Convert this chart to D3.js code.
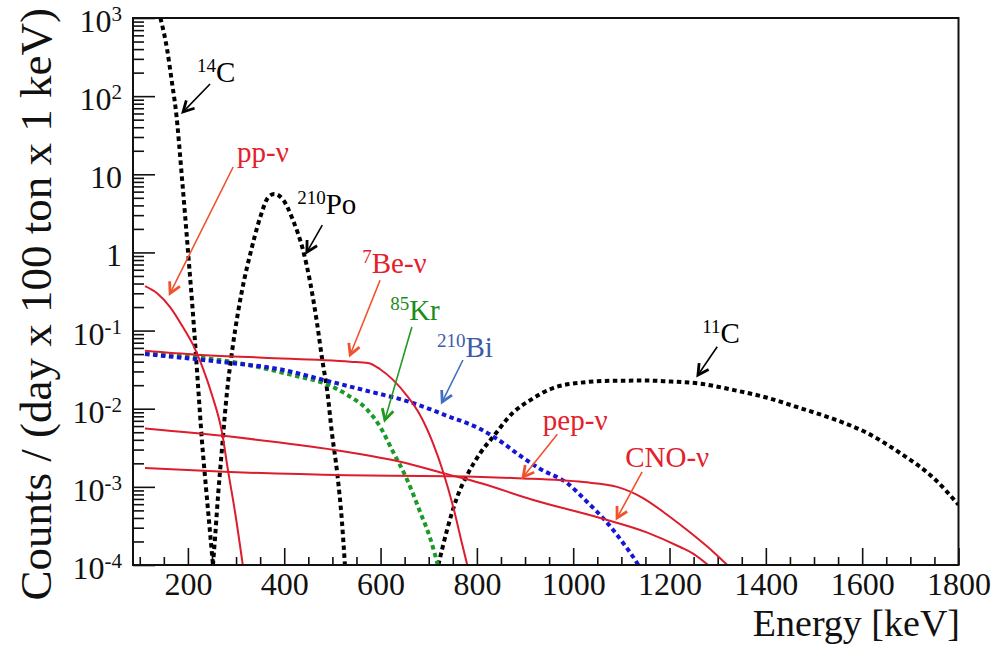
<!DOCTYPE html>
<html>
<head>
<meta charset="utf-8">
<script src="https://cdn.jsdelivr.net/npm/d3@7"></script>
<style>
  body { margin: 0; background: #fff; }
  text { font-family: "Liberation Serif", "Times New Roman", serif; }
</style>
</head>
<body>
<div id="chart"></div>
<script>
// spectra: [energy keV, counts / (day x 100 ton x 1 keV)]
const c14 = [[143, 1000], [157, 390], [167, 148], [175, 66], [188, 8.5], [200, 1.07], [213, 0.102],
  [221, 0.020], [229, 0.004], [238, 9.1e-4], [246, 2.6e-4], [252, 1e-4]];
const po210 = [[252, 1e-4], [256, 2.1e-4], [263, 8.3e-4], [271, 3.2e-3], [281, 0.016], [292, 0.056],
  [304, 0.17], [317, 0.45], [329, 0.93], [350, 2.8], [366, 5.0], [379, 5.6], [398, 4.7], [418, 2.6],
  [439, 1.07], [454, 0.41], [468, 0.126], [479, 0.042], [489, 0.0174], [499, 0.0049], [510, 0.0015],
  [520, 3.5e-4], [526, 1e-4]];
const ppNu = [[111, 0.37], [136, 0.30], [163, 0.20], [190, 0.11], [211, 0.065], [231, 0.033],
  [250, 0.015], [271, 0.0049], [283, 0.00166], [298, 4.7e-4], [314, 1e-4]];
const be7Nu = [[111, 0.055], [219, 0.049], [356, 0.045], [537, 0.040], [574, 0.0385], [599, 0.032],
  [626, 0.0234], [655, 0.0146], [682, 0.0083], [709, 0.0036], [730, 0.00155], [751, 5.5e-4],
  [769, 1.9e-4], [780, 1e-4]];
const kr85 = [[111, 0.051], [288, 0.040], [427, 0.026], [481, 0.0214], [531, 0.015], [573, 0.0096],
  [599, 0.0059], [626, 0.0028], [655, 0.00124], [682, 4.8e-4], [703, 2.2e-4], [719, 1e-4]];
const bi210 = [[111, 0.050], [288, 0.0385], [391, 0.032], [481, 0.0234], [564, 0.0174], [668, 0.0118],
  [738, 0.0081], [807, 0.0055], [842, 0.0041], [890, 0.0025], [931, 0.0017], [987, 0.00112],
  [1029, 6.4e-4], [1070, 3.5e-4], [1104, 1.9e-4], [1129, 1.15e-4], [1135, 1e-4]];
const c11 = [[720, 1e-4], [738, 2.8e-4], [759, 7.4e-4], [782, 0.0015], [807, 0.0027], [834, 0.0044],
  [875, 0.0089], [911, 0.0129], [958, 0.0184], [1014, 0.0215], [1083, 0.0228], [1154, 0.0229],
  [1195, 0.0224], [1264, 0.0209], [1332, 0.0174], [1403, 0.0138], [1471, 0.0102], [1540, 0.0074],
  [1610, 0.0049], [1679, 0.0027], [1748, 0.0013], [1800, 5.9e-4]];
const pepNu = [[111, 0.00174], [288, 0.00155], [531, 0.00141], [745, 0.00137], [884, 0.00129],
  [1021, 0.00115], [1091, 0.001], [1145, 7.2e-4], [1195, 4.4e-4], [1243, 2.6e-4], [1291, 1.47e-4],
  [1320, 1e-4]];
const cnoNu = [[111, 0.0056], [288, 0.0044], [391, 0.0037], [531, 0.0028], [641, 0.0021], [730, 0.0015],
  [807, 0.00112], [917, 6.8e-4], [1056, 4.0e-4], [1154, 2.6e-4], [1222, 1.7e-4], [1249, 1.4e-4],
  [1280, 1e-4]];

// axis ticks
const xMajor = [200, 400, 600, 800, 1000, 1200, 1400, 1600, 1800];
const xMinor = d3.range(100, 1801, 50).filter((d) => d % 200 !== 0);
const yExponents = [-4, -3, -2, -1, 0, 1, 2, 3];

const RED = '#dd1c2c';
const RED_TEXT = '#e4202a';
const RED_ARROW = '#f0522c';

const series = [
  { data: c14, color: '#000', dotted: true },
  { data: po210, color: '#000', dotted: true },
  { data: c11, color: '#000', dotted: true },
  { data: kr85, color: '#1c9a28', dotted: true },
  { data: bi210, color: '#1515d8', dotted: true },
  { data: ppNu, color: RED },
  { data: be7Nu, color: RED },
  { data: pepNu, color: RED },
  { data: cnoNu, color: RED },
];

// labels: text anchor and arrow [tail, tip] in data coordinates
const notes = [
  { sup: '14', main: 'C', at: [219, 150], color: '#000', arrowColor: '#000', arrow: [[246, 143], [190, 63]] },
  { sup: '', main: 'pp-ν', at: [302, 14.3], color: RED_TEXT, arrowColor: RED_ARROW, arrow: [[294, 12.4], [163, 0.30]] },
  { sup: '210', main: 'Po', at: [427, 3.1], color: '#000', arrowColor: '#000', arrow: [[479, 2.24], [447, 1.01]] },
  { sup: '7', main: 'Be-ν', at: [562, 0.55], color: RED_TEXT, arrowColor: RED_ARROW, arrow: [[599, 0.44], [537, 0.049]] },
  { sup: '85', main: 'Kr', at: [620, 0.136], color: '#1a8c1a', arrowColor: '#1f9a1f', arrow: [[665, 0.111], [609, 0.0072]] },
  { sup: '210', main: 'Bi', at: [717, 0.046], color: '#3d5ca8', arrowColor: '#4270c0', arrow: [[771, 0.042], [728, 0.0122]] },
  { sup: '11', main: 'C', at: [1268, 0.069], color: '#000', arrowColor: '#000', arrow: [[1299, 0.062], [1259, 0.027]] },
  { sup: '', main: 'pep-ν', at: [937, 0.0053], color: RED_TEXT, arrowColor: RED_ARROW, arrow: [[967, 0.0047], [896, 0.00134]] },
  { sup: '', main: 'CNO-ν', at: [1108, 0.0018], color: RED_TEXT, arrowColor: RED_ARROW, arrow: [[1143, 0.00155], [1091, 4.0e-4]] },
];

const width = 1000;
const height = 654;
const plot = { left: 133, right: 958.5, top: 18, bottom: 565 };

const x = d3.scaleLinear().domain([86, 1800]).range([plot.left, plot.right]);
const y = d3.scaleLog().domain([1e-4, 1e3]).range([plot.bottom, plot.top]);

const svg = d3.select('#chart')
  .append('svg')
  .attr('width', width)
  .attr('height', height)
  .attr('viewBox', [0, 0, width, height]);

svg.append('rect').attr('width', width).attr('height', height).attr('fill', '#fff');

svg.append('clipPath')
  .attr('id', 'plot-clip')
  .append('rect')
  .attr('x', plot.left)
  .attr('y', plot.top)
  .attr('width', plot.right - plot.left)
  .attr('height', plot.bottom - plot.top);

// x ticks (inward)
const xMinorAxis = svg.append('g')
  .attr('transform', `translate(0,${plot.bottom})`)
  .call(d3.axisBottom(x).tickValues(xMinor).tickSize(-8).tickFormat(''));
const xMajorAxis = svg.append('g')
  .attr('transform', `translate(0,${plot.bottom})`)
  .call(d3.axisBottom(x).tickValues(xMajor).tickSize(-17).tickPadding(7).tickFormat(d3.format('d')));

xMajorAxis.selectAll('text')
  .attr('font-family', '"Liberation Serif", serif')
  .attr('font-size', 32)
  .attr('fill', '#111');

// y ticks (inward)
const yMinor = [];
yExponents.slice(0, -1).forEach((e) => {
  for (let k = 2; k <= 9; k += 1) yMinor.push(k * 10 ** e);
});
const yMinorAxis = svg.append('g')
  .attr('transform', `translate(${plot.left},0)`)
  .call(d3.axisLeft(y).tickValues(yMinor).tickSize(-11).tickFormat(''));
const yMajorAxis = svg.append('g')
  .attr('transform', `translate(${plot.left},0)`)
  .call(d3.axisLeft(y).tickValues(yExponents.map((e) => 10 ** e)).tickSize(-22).tickFormat(''));

[xMinorAxis, xMajorAxis, yMinorAxis, yMajorAxis].forEach((g) => {
  g.select('.domain').remove();
  g.selectAll('line').attr('stroke', '#111').attr('stroke-width', 1.6);
});

// y tick labels with superscripts
const yLabels = svg.append('g')
  .attr('font-size', 32)
  .attr('fill', '#111')
  .attr('text-anchor', 'end');

yExponents.forEach((e) => {
  const t = yLabels.append('text')
    .attr('x', 122)
    .attr('y', y(10 ** e) + 14);
  if (e === 0) {
    t.text('1');
  } else if (e === 1) {
    t.text('10');
  } else {
    t.append('tspan').text('10');
    t.append('tspan')
      .attr('font-size', 21)
      .attr('dy', -11)
      .text(e < 0 ? `-${-e}` : `${e}`);
  }
});

// curves
const line = d3.line()
  .x((d) => x(d[0]))
  .y((d) => y(d[1]))
  .curve(d3.curveMonotoneX);

svg.append('g')
  .attr('clip-path', 'url(#plot-clip)')
  .selectAll('path')
  .data(series)
  .join('path')
  .attr('fill', 'none')
  .attr('stroke', (d) => d.color)
  .attr('stroke-width', (d) => (d.dotted ? 4 : 2))
  .attr('stroke-dasharray', (d) => (d.dotted ? '4.5 3.5' : null))
  .attr('d', (d) => line(d.data));

// frame
svg.append('rect')
  .attr('x', plot.left)
  .attr('y', plot.top)
  .attr('width', plot.right - plot.left)
  .attr('height', plot.bottom - plot.top)
  .attr('fill', 'none')
  .attr('stroke', '#111')
  .attr('stroke-width', 2);

// annotations
const noteG = svg.append('g');
notes.forEach((n) => {
  const [[e0, v0], [e1, v1]] = n.arrow;
  const x0 = x(e0);
  const y0 = y(v0);
  const x1 = x(e1);
  const y1 = y(v1);
  const ang = Math.atan2(y1 - y0, x1 - x0);
  const head = 12;
  const spread = 0.5;
  const h1 = [x1 - head * Math.cos(ang - spread), y1 - head * Math.sin(ang - spread)];
  const h2 = [x1 - head * Math.cos(ang + spread), y1 - head * Math.sin(ang + spread)];

  noteG.append('line')
    .attr('x1', x0).attr('y1', y0)
    .attr('x2', x1).attr('y2', y1)
    .attr('stroke', n.arrowColor)
    .attr('stroke-width', 1.6);
  noteG.append('path')
    .attr('d', `M${h1}L${x1},${y1}L${h2}`)
    .attr('fill', 'none')
    .attr('stroke', n.arrowColor)
    .attr('stroke-width', 2.8)
    .attr('stroke-linejoin', 'miter');

  const t = noteG.append('text')
    .attr('x', x(n.at[0]))
    .attr('y', y(n.at[1]))
    .attr('fill', n.color)
    .attr('font-size', 29);
  if (n.sup) {
    t.append('tspan').attr('font-size', 19).attr('dy', -10).text(n.sup);
    t.append('tspan').attr('dy', 10).text(n.main);
  } else {
    t.text(n.main);
  }
});

// axis titles
svg.append('text')
  .attr('x', 960)
  .attr('y', 636)
  .attr('text-anchor', 'end')
  .attr('font-size', 38)
  .attr('fill', '#111')
  .text('Energy [keV]');

svg.append('text')
  .attr('transform', 'translate(51,8) rotate(-90)')
  .attr('text-anchor', 'end')
  .attr('font-size', 45)
  .attr('fill', '#111')
  .text('Counts / (day x 100 ton x 1 keV)');
</script>
</body>
</html>
